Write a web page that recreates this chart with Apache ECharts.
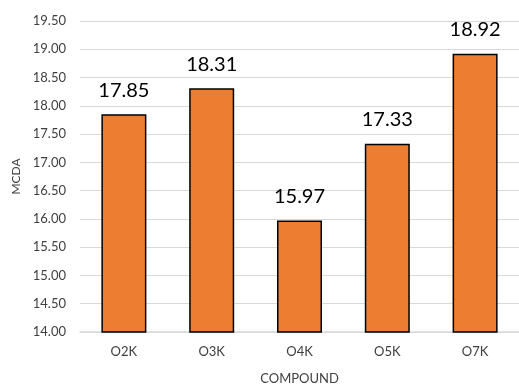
<!DOCTYPE html>
<html>
<head>
<meta charset="utf-8">
<script src="https://cdn.jsdelivr.net/npm/echarts@6/dist/echarts.min.js"></script>
<style>
  html, body { margin: 0; padding: 0; background: #fff; }
  #chart { width: 519px; height: 390px; }
</style>
</head>
<body>
<div id="chart"></div>
<script>
// MCDA score per compound
const compounds = ['O2K', 'O3K', 'O4K', 'O5K', 'O7K'];
const mcdaScores = [17.85, 18.31, 15.97, 17.33, 18.92];

const chart = echarts.init(document.getElementById('chart'), null, { renderer: 'canvas' });

chart.setOption({
  animation: false,
  backgroundColor: '#ffffff',
  grid: { left: 80, top: 21, width: 446, height: 314, containLabel: false },
  xAxis: {
    type: 'category',
    data: compounds,
    name: 'COMPOUND',
    nameLocation: 'middle',
    nameGap: 40,
    nameTextStyle: { fontFamily: 'Lato', fontSize: 13, color: '#404040' },
    axisLine: { lineStyle: { color: '#d9d9d9', width: 1.5 } },
    axisTick: { show: false },
    axisLabel: { fontFamily: 'Lato', fontSize: 13, color: '#404040', margin: 13 }
  },
  yAxis: {
    type: 'value',
    min: 14,
    max: 19.5,
    interval: 0.5,
    name: 'MCDA',
    nameLocation: 'middle',
    nameGap: 58,
    nameTextStyle: { fontFamily: 'Lato', fontSize: 12, color: '#404040' },
    axisLine: { show: false },
    axisTick: { show: false },
    splitLine: { lineStyle: { color: '#d9d9d9', width: 1 } },
    axisLabel: {
      fontFamily: 'Lato', fontSize: 13, color: '#404040', margin: 14,
      formatter: v => v.toFixed(2)
    }
  },
  series: [{
    type: 'bar',
    data: mcdaScores,
    barWidth: 45,
    itemStyle: { color: '#ED7D31', borderColor: '#000000', borderWidth: 1.5 },
    label: {
      show: true,
      position: 'top',
      distance: 14,
      fontFamily: 'Lato',
      fontSize: 20,
      color: '#000000',
      formatter: p => p.value.toFixed(2)
    }
  }]
});
</script>
</body>
</html>
